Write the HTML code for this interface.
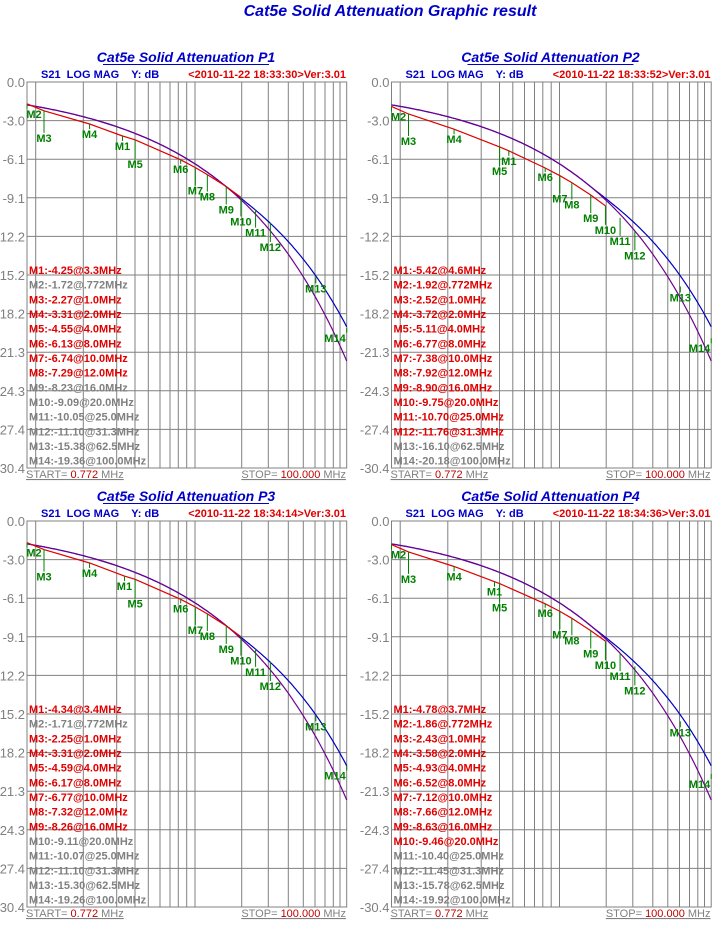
<!DOCTYPE html>
<html><head><meta charset="utf-8">
<style>
html,body{margin:0;padding:0;background:#fff;}
svg{display:block;font-family:"Liberation Sans",Arial,sans-serif;}
.pre{white-space:pre;}
</style></head>
<body>
<svg id="s" width="712" height="930" viewBox="0 0 712 930" xmlns="http://www.w3.org/2000/svg">
<text x="390" y="16" text-anchor="middle" font-size="16" font-weight="bold" font-style="italic" fill="#0000c8">Cat5e Solid Attenuation Graphic result</text>
</svg>
<script>
var NS="http://www.w3.org/2000/svg",S=document.getElementById('s');
function el(t,a,txt,parent){var e=document.createElementNS(NS,t);for(var k in a)e.setAttribute(k,a[k]);if(txt!=null)e.textContent=txt;(parent||S).appendChild(e);return e;}
var L=27,R=346.7,T=82,B=468;
function X(f){return L+(R-L)*Math.log(f/0.772)/Math.log(100/0.772);}
function Y(d){return T+d*(B-T)/30.4;}
function purple(f){return 1.967*Math.sqrt(f)+0.023*f+0.05/Math.sqrt(f);}
function blue(f){var p=purple(f);if(f>16)p-=3.8*Math.pow(Math.log10(f/16),1.5);return p;}
var gx=[35.7,83.3,116.7,135,148.3,160,170,178.3,186.7,195,241.7,268.3,288.3,303.3,315,325,333.3,340];
var ylab=["0.0","-3.0","-6.1","-9.1","-12.2","-15.2","-18.2","-21.3","-24.3","-27.4","-30.4"];
var mf=[null,null,0.772,1,2,4,8,10,12,16,20,25,31.3,62.5,100];
var fstr=[null,null,".772","1.0","2.0","4.0","8.0","10.0","12.0","16.0","20.0","25.0","31.3","62.5","100.0"];
var off=[0,10,10,27,10,24,9,23,22,23,24,23,24,11,10];
var panels=[
 {dx:0,dy:0,n:"P1",ts:"<2010-11-22 18:33:30>Ver:3.01",m1f:3.3,v:[-4.25,-1.72,-2.27,-3.31,-4.55,-6.13,-6.74,-7.29,-8.23,-9.09,-10.05,-11.10,-15.38,-19.36],red:[1,0,1,1,1,1,1,1,0,0,0,0,0,0]},
 {dx:364.5,dy:0,n:"P2",ts:"<2010-11-22 18:33:52>Ver:3.01",m1f:4.6,v:[-5.42,-1.92,-2.52,-3.72,-5.11,-6.77,-7.38,-7.92,-8.90,-9.75,-10.70,-11.76,-16.10,-20.18],red:[1,1,1,1,1,1,1,1,1,1,1,1,0,0]},
 {dx:0,dy:439,n:"P3",ts:"<2010-11-22 18:34:14>Ver:3.01",m1f:3.4,v:[-4.34,-1.71,-2.25,-3.31,-4.59,-6.17,-6.77,-7.32,-8.26,-9.11,-10.07,-11.10,-15.30,-19.26],red:[1,0,1,1,1,1,1,1,1,0,0,0,0,0]},
 {dx:364.5,dy:439,n:"P4",ts:"<2010-11-22 18:34:36>Ver:3.01",m1f:3.7,v:[-4.78,-1.86,-2.43,-3.58,-4.93,-6.52,-7.12,-7.66,-8.63,-9.46,-10.40,-11.45,-15.78,-19.92],red:[1,1,1,1,1,1,1,1,1,1,0,0,0,0]}
];
panels.forEach(function(p){
 var g=el('g',{transform:'translate('+p.dx+','+p.dy+')'});
 el('text',{x:186,y:62,'text-anchor':'middle','font-size':14,'font-weight':'bold','font-style':'italic',fill:'#0000c8'},'Cat5e Solid Attenuation '+p.n,g);
 el('line',{x1:103,x2:269,y1:64.5,y2:64.5,stroke:'#0000c8','stroke-width':1},null,g);
 el('text',{x:41,y:78,'font-size':11,'font-weight':'bold',fill:'#0000c8','class':'pre'},'S21  LOG MAG    Y: dB',g);
 el('text',{x:346,y:78,'text-anchor':'end','font-size':11,'font-weight':'bold',fill:'#e00000'},p.ts,g);
 for(var i=0;i<=10;i++){var y=T+i*(B-T)/10;
  el('line',{x1:L,x2:R,y1:y,y2:y,stroke:'#808080','stroke-width':1},null,g);
  el('text',{x:25,y:y+5,'text-anchor':'end','font-size':13,fill:'#808080'},ylab[i],g);}
 gx.forEach(function(x){el('line',{x1:x,x2:x,y1:T,y2:B,stroke:'#808080','stroke-width':1},null,g);});
 el('rect',{x:L,y:T,width:R-L,height:B-T,fill:'none',stroke:'#808080','stroke-width':1},null,g);
 var pts=[];for(var j=1;j<=14;j++){var f=(j==1)?p.m1f:mf[j];pts.push([f,-p.v[j-1]]);}
 pts.sort(function(a,b){return a[0]-b[0];});
 var pp="",bp="";
 for(var k=0;k<=200;k++){var f=0.772*Math.pow(100/0.772,k/200);
  pp+=(k?"L":"M")+X(f).toFixed(1)+","+Y(purple(f)).toFixed(1);
  bp+=(k?"L":"M")+X(f).toFixed(1)+","+Y(blue(f)).toFixed(1);}
 el('path',{d:bp,fill:'none',stroke:'#0000c0','stroke-width':1.2},null,g);
 el('path',{d:pp,fill:'none',stroke:'#700090','stroke-width':1.2},null,g);
 var rp2="",first=true;pts.forEach(function(q){if(q[0]<=20){rp2+=(first?"M":"L")+X(q[0]).toFixed(1)+","+Y(q[1]).toFixed(1);first=false;}});
 el('path',{d:rp2,fill:'none',stroke:'#e00000','stroke-width':1.2},null,g);
 for(var j=1;j<=14;j++){
  var f=(j==1)?p.m1f:mf[j],x=X(f),y=Y(-p.v[j-1]),o=off[j];
  el('line',{x1:x,x2:x,y1:y,y2:y+o-5,stroke:'#008000','stroke-width':1},null,g);
  var tx=x; if(j==2)tx=34; if(tx>335)tx=335;
  el('text',{x:tx,y:y+o+4,'text-anchor':'middle','font-size':11,'font-weight':'bold',fill:'#008000'},'M'+j,g);
  var lbl='M'+j+':'+p.v[j-1].toFixed(2)+'@'+(j==1?p.m1f.toFixed(1):fstr[j])+'MHz';
  el('text',{x:29,y:274+(j-1)*14.67,'font-size':11,'font-weight':'bold',fill:p.red[j-1]?'#e00000':'#808080'},lbl,g);
 }
 var t=el('text',{x:26,y:478,'font-size':11,fill:'#808080','text-decoration':'underline'},null,g);
 el('tspan',{},'START= ',t);el('tspan',{fill:'#c00000'},'0.772',t);el('tspan',{},' MHz',t);
 var t2=el('text',{x:346,y:478,'text-anchor':'end','font-size':11,fill:'#808080','text-decoration':'underline'},null,g);
 el('tspan',{},'STOP= ',t2);el('tspan',{fill:'#c00000'},'100.000',t2);el('tspan',{},' MHz',t2);
});
</script>
</body></html>
